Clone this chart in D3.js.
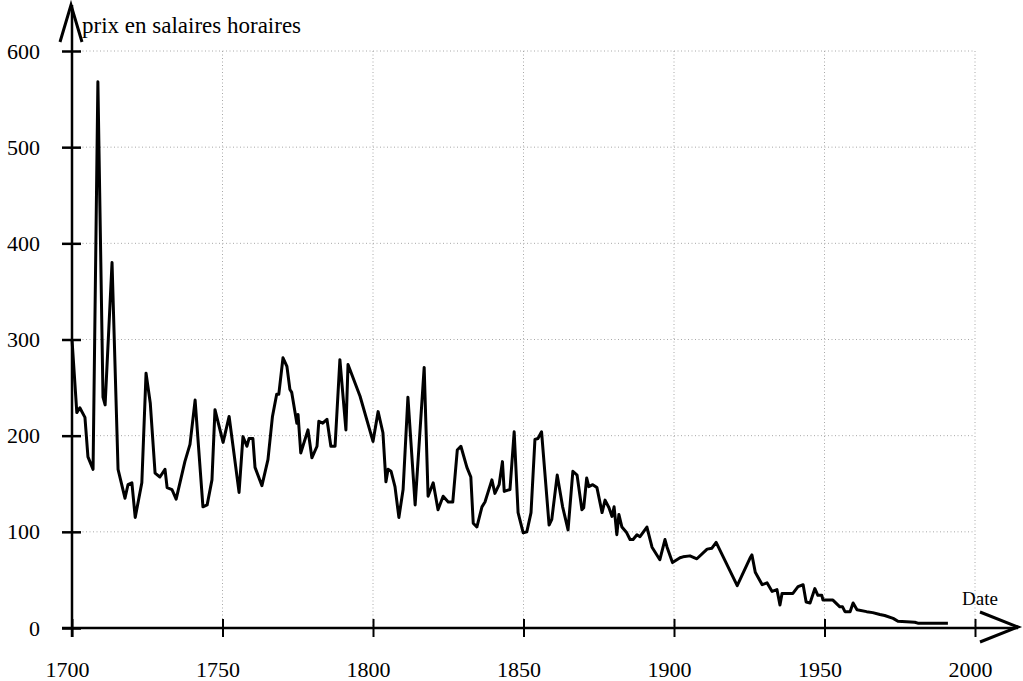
<!DOCTYPE html>
<html>
<head>
<meta charset="utf-8">
<script src="https://cdn.jsdelivr.net/npm/d3@7"></script>
<style>
	html, body { margin: 0; padding: 0; background: #fff; }
	svg { display: block; font-family: 'Liberation Serif', 'Times New Roman', serif; }
</style>
</head>
<body>
<script>
// -----------------------------DATA--------------------------------

// years (read off the picture, not always whole years)
const years = [
	1700, 1701.6, 1702.6, 1704.3, 1705.3, 1707, 1708.6, 1710.3, 1711, 1713.3,
	1715.3, 1717.6, 1718.6, 1719.9, 1721, 1723.2, 1724.6, 1726, 1727.6, 1729.2,
	1730.9, 1731.6, 1733.2, 1734.6, 1737.5, 1739.2, 1740.9, 1743.5, 1744.9, 1746.5,
	1747.5, 1750.2, 1752.2, 1753.5, 1755.5, 1756.8, 1758.1, 1758.8, 1760.1, 1760.8,
	1763.1, 1765.1, 1766.6, 1768, 1768.7, 1770.1, 1771.4, 1772.4, 1773, 1774.7,
	1775.1, 1776, 1778.4, 1779.7, 1781.4, 1782, 1783.3, 1784.7, 1786, 1787.4,
	1789, 1791, 1791.7, 1795.7, 1800, 1801.7, 1803.3, 1804.3, 1805, 1806,
	1807.3, 1808.6, 1810, 1811.6, 1814, 1817, 1818.3, 1820, 1821.6, 1823.3,
	1825, 1826.5, 1828, 1829.2, 1831.2, 1832.5, 1833.3, 1834.5, 1836.2, 1837.2,
	1839.5, 1840.5, 1841.9, 1843, 1843.6, 1845.5, 1846.9, 1848.2, 1849.9, 1851.1,
	1852.5, 1853.8, 1854.8, 1856, 1858.5, 1859.4, 1861.2, 1863, 1864.8, 1866.4,
	1867.8, 1869.4, 1870, 1871, 1871.7, 1873, 1874.4, 1876.1, 1877.1, 1878.4,
	1879.4, 1880.1, 1881, 1881.7, 1882.7, 1884.3, 1885.4, 1886.4, 1887.7, 1888.7,
	1891, 1892.7, 1895.3, 1897, 1897.7, 1899.5, 1902, 1903, 1905.3, 1907.6,
	1911, 1912.6, 1914, 1921, 1925.3, 1925.9, 1927, 1929.3, 1930.9, 1932.6,
	1934.2, 1935.2, 1935.9, 1939.5, 1941.2, 1942.9, 1943.9, 1945.2, 1946.8, 1947.8,
	1949.1, 1949.5, 1952.8, 1955.1, 1956, 1956.8, 1958.5, 1959.5, 1960.8, 1964,
	1966, 1968.4, 1970, 1972.8, 1974.4, 1980, 1981, 1991
];

// price in hourly wages
const prices = [
	300, 224, 229, 219, 178, 165, 568, 240, 232, 380,
	165, 135, 149, 151, 115, 151, 265, 234, 161, 157,
	165, 146, 144, 134, 173, 191, 237, 126, 128, 154,
	227, 193, 220, 189, 141, 199, 189, 197, 197, 167,
	148, 175, 220, 243, 243, 281, 272, 248, 245, 213,
	222, 182, 206, 177, 189, 215, 213, 217, 189, 189,
	279, 206, 274, 241, 194, 225, 203, 152, 165, 163,
	147, 115, 144, 240, 128, 271, 137, 151, 123, 137,
	131, 131, 185, 189, 167, 157, 109, 105, 126, 131,
	154, 140, 149, 173, 142, 144, 204, 120, 99, 100,
	120, 196, 197, 204, 107, 113, 159, 126, 102, 163,
	159, 123, 125, 156, 147, 149, 146, 120, 133, 125,
	116, 126, 97, 118, 105, 99, 92, 92, 97, 95,
	105, 84, 71, 92, 84, 68, 73, 74, 75, 72,
	82, 83, 89, 44, 73, 76, 58, 45, 47, 38,
	40, 24, 36, 36, 43, 45, 27, 26, 41, 34,
	34, 29, 29, 22, 22, 17, 17, 26, 19, 17,
	16, 14, 13, 10, 7, 6, 5, 5
];

const xTicks = [1700, 1750, 1800, 1850, 1900, 1950, 2000];
const yTicks = [0, 100, 200, 300, 400, 500, 600];
const yTitle = 'prix en salaires horaires';
const xTitle = 'Date';

const data = years.map((y, i) => ({ year: y, price: prices[i] }));

// -----------------------------SVG + SCALES--------------------------------

const width = 1023;
const height = 681;
const fontSize = 22;

const x = d3.scaleLinear().domain([1700, 2000]).range([72, 975]);
const y = d3.scaleLinear().domain([0, 600]).range([628, 51]);

const svg = d3.select('body').append('svg').attr('width', width).attr('height', height);

// dotted grid
const grid = svg.append('g').attr('stroke', '#a8a8a8').attr('stroke-width', 1).attr('stroke-dasharray', '1,2.5');
grid.selectAll('line.h')
	.data(yTicks.filter((d) => d > 0))
	.join('line')
	.attr('class', 'h')
	.attr('x1', x(1700))
	.attr('x2', x(2000))
	.attr('y1', (d) => y(d))
	.attr('y2', (d) => y(d));
grid.selectAll('line.v')
	.data(xTicks.filter((d) => d > 1700))
	.join('line')
	.attr('class', 'v')
	.attr('x1', (d) => x(d))
	.attr('x2', (d) => x(d))
	.attr('y1', y(600))
	.attr('y2', y(0));

// -----------------------------AXES--------------------------------

const xAxis = svg.append('g')
	.attr('transform', `translate(0,${y(0)})`)
	.call(d3.axisBottom(x).tickValues(xTicks).tickFormat(d3.format('d')).tickSizeOuter(0));
xAxis.select('.domain').remove();
xAxis.selectAll('.tick line').attr('y1', -9).attr('y2', 9).attr('stroke', '#000').attr('stroke-width', 2);
xAxis.selectAll('.tick text')
	.attr('y', 33)
	.attr('dx', -5)
	.attr('font-size', fontSize)
	.attr('font-family', 'Liberation Serif')
	.attr('fill', '#000');

const yAxis = svg.append('g')
	.attr('transform', `translate(${x(1700)},0)`)
	.call(d3.axisLeft(y).tickValues(yTicks).tickSizeOuter(0));
yAxis.select('.domain').remove();
yAxis.selectAll('.tick line').attr('x1', -10).attr('x2', 9).attr('stroke', '#000').attr('stroke-width', 2.5);
yAxis.selectAll('.tick text')
	.attr('x', -32)
	.attr('font-size', fontSize)
	.attr('font-family', 'Liberation Serif')
	.attr('fill', '#000');

// axis lines with arrow heads
const axes = svg.append('g').attr('stroke', '#000').attr('fill', 'none').attr('stroke-width', 2.5);
axes.append('line').attr('x1', x(1700) - 10).attr('x2', 1018).attr('y1', y(0)).attr('y2', y(0));
axes.append('line').attr('x1', x(1700)).attr('x2', x(1700)).attr('y1', y(0) + 9).attr('y2', 5);
axes.append('path')
	.attr('stroke-width', 3)
	.attr('d', `M${x(1700) - 12},42L${x(1700) - 1},5L${x(1700) + 10},42`);
axes.append('path')
	.attr('stroke-width', 3)
	.attr('d', `M980,${y(0) - 16}L1018,${y(0) - 1}L980,${y(0) + 14}`);

svg.append('text')
	.attr('x', 82)
	.attr('y', 33)
	.attr('font-size', 23)
	.text(yTitle);

svg.append('text')
	.attr('x', 962)
	.attr('y', 605)
	.attr('font-size', 19)
	.text(xTitle);

// -----------------------------LINE--------------------------------

const line = d3.line()
	.x((d) => x(d.year))
	.y((d) => y(d.price));

svg.append('path')
	.datum(data)
	.attr('fill', 'none')
	.attr('stroke', '#000')
	.attr('stroke-width', 3)
	.attr('stroke-linejoin', 'round')
	.attr('d', line);
</script>
</body>
</html>
